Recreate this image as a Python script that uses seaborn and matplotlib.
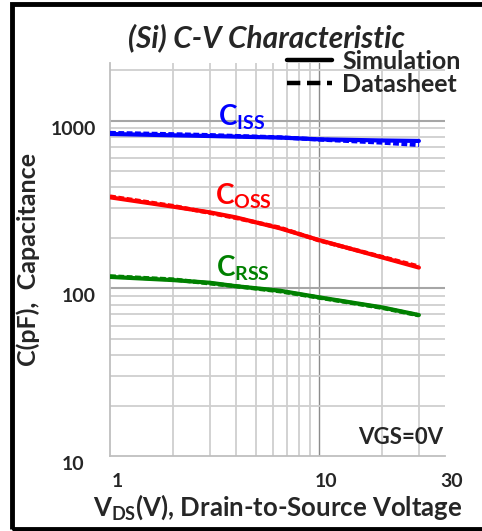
import numpy as np
import pandas as pd
import matplotlib
matplotlib.use("Agg")
import matplotlib.pyplot as plt
import matplotlib.transforms as mtransforms
from matplotlib.lines import Line2D
from matplotlib.patches import Rectangle
from matplotlib.ticker import FixedLocator, NullFormatter
import seaborn as sns

# Drain-source voltage sample points (V)
vds = [1, 2, 3, 4, 6.5, 10, 20, 30]

# Capacitances in pF, simulation model
ciss_sim = [833, 818, 810, 803, 793, 774, 762, 757]
coss_sim = [349, 307, 284, 265, 228, 194, 153, 133]
crss_sim = [117, 112, 108, 103, 96.8, 88.4, 77, 69.3]

# Capacitances in pF, datasheet curves
ciss_ds = [845, 830, 820, 810, 795, 772, 740, 716]
coss_ds = [353, 310, 282, 263, 230, 193, 154, 135]
crss_ds = [118, 113, 107, 103, 96, 88, 76.5, 69]

series_names = ["ISS", "OSS", "RSS"]
series_colors = {"ISS": "#0000ff", "OSS": "#ff0000", "RSS": "#008000"}

x_ticks = [1, 10, 40]
x_tick_labels = ["1", "10", "30"]
y_ticks = [10, 100, 1000]
y_tick_labels = ["10", "100", "1000"]

sns.set_theme(style="white")
plt.rcParams["font.family"] = ["Lato", "DejaVu Sans"]
plt.rcParams["mathtext.fontset"] = "custom"
plt.rcParams["mathtext.rm"] = "Lato:bold"
plt.rcParams["mathtext.bf"] = "Lato:bold"
plt.rcParams["mathtext.it"] = "Lato:bold"

frames = []
for name, sim, ds in zip(series_names, [ciss_sim, coss_sim, crss_sim], [ciss_ds, coss_ds, crss_ds]):
    frames.append(pd.DataFrame({"Vds": vds, "C": sim, "series": name, "source": "Simulation"}))
    frames.append(pd.DataFrame({"Vds": vds, "C": ds, "series": name, "source": "Datasheet"}))
df = pd.concat(frames, ignore_index=True)

W, H = 482, 531
fig = plt.figure(figsize=(W / 100, H / 100), dpi=100)
ax = fig.add_axes([110 / W, 1 - 456 / H, (445 - 110) / W, (456 - 63) / H])

ax.set_xscale("log")
ax.set_yscale("log")
ax.set_xlim(1, 40)
ax.set_ylim(10, 2208)

# grid: light minor lines, darker decade lines
minor_x = [2, 3, 4, 5, 6, 7, 8, 9, 20, 30]
minor_y = [v * d for d in (10, 100, 1000) for v in range(2, 10) if v * d < 2208]
for xv in minor_x:
    ax.axvline(xv, color="#cfcfcf", lw=1.3, zorder=0)
ax.axvline(10, color="#8c8c8c", lw=1.0, zorder=0)
for yv in minor_y:
    ax.axhline(yv, color="#cfcfcf", lw=1.3, zorder=0)
for yv in (100, 1000):
    ax.axhline(yv, color="#a6a6a6", lw=1.5, zorder=0)

sns.lineplot(data=df[df.source == "Simulation"], x="Vds", y="C", hue="series",
             palette=series_colors, ax=ax, lw=3.0, legend=False, zorder=3,
             estimator=None, sort=False)
sns.lineplot(data=df[df.source == "Datasheet"], x="Vds", y="C", hue="series",
             palette=series_colors, ax=ax, lw=3.0, legend=False, zorder=4,
             estimator=None, sort=False)
for ln in ax.lines[-3:]:
    ln.set_dashes((1.4, 0.6))

ax.xaxis.set_major_locator(FixedLocator(x_ticks))
ax.set_xticklabels(x_tick_labels)
ax.xaxis.set_minor_formatter(NullFormatter())
ax.yaxis.set_major_locator(FixedLocator(y_ticks))
ax.set_yticklabels(y_tick_labels)
ax.yaxis.set_minor_formatter(NullFormatter())
ax.tick_params(axis="both", which="both", length=0, labelsize=14)
ax.tick_params(axis="x", pad=12)
ax.tick_params(axis="y", pad=10)
for lab in ax.get_xticklabels() + ax.get_yticklabels():
    lab.set_fontweight("bold")

# nudge tick labels: x labels slightly right, y labels slightly down
for lab in ax.get_xticklabels():
    lab.set_transform(lab.get_transform() + mtransforms.ScaledTranslation(7 / 100, 0, fig.dpi_scale_trans))
for lab, txt in zip(ax.get_yticklabels(), y_tick_labels):
    dx = -12 / 100 if txt == "10" else 0
    lab.set_transform(lab.get_transform() + mtransforms.ScaledTranslation(dx, -7 / 100, fig.dpi_scale_trans))

for side in ["left", "bottom"]:
    ax.spines[side].set_color("#bfbfbf")
    ax.spines[side].set_linewidth(1.3)
for side in ["top", "right"]:
    ax.spines[side].set_visible(False)

ax.set_xlabel(r"V$_\mathbf{DS}$(V), Drain-to-Source Voltage", fontsize=18.5,
              fontweight="bold", labelpad=2)
ax.set_ylabel("C(pF),  Capacitance", fontsize=18, fontweight="bold", labelpad=8)

fig.text(266 / W, 1 - 38 / H, "(Si) C-V Characteristic", ha="center", va="center",
         fontsize=21.5, fontweight="bold", fontstyle="italic")

# curve labels
for name, (px, py) in {"ISS": (218, 117), "OSS": (215, 196), "RSS": (216, 268)}.items():
    fig.text(px / W, 1 - py / H, r"C$_\mathbf{%s}$" % name, ha="left", va="center",
             fontsize=20, fontweight="bold", color=series_colors[name])

fig.text(443 / W, 1 - 437 / H, "VGS=0V", ha="right", va="center",
         fontsize=16, fontweight="bold")

handles = [Line2D([], [], color="black", lw=3.2, label="Simulation"),
           Line2D([], [], color="black", lw=3.2, dashes=(3, 1.5), label="Datasheet")]
fig.legend(handles=handles, loc="upper left", bbox_to_anchor=(272 / W, 1 - 35 / H),
           frameon=False, handlelength=1.8, handletextpad=0.4,
           labelspacing=0.0, borderpad=0.1, prop={"weight": "bold", "size": 18})

# outer black frame
fig.patches.append(Rectangle((12 / W, 1 - 529 / H), (500 - 12) / W, (529 - 4) / H,
                             transform=fig.transFigure, fill=False, edgecolor="black",
                             lw=3.5))

fig.savefig("out.png", dpi=100)
